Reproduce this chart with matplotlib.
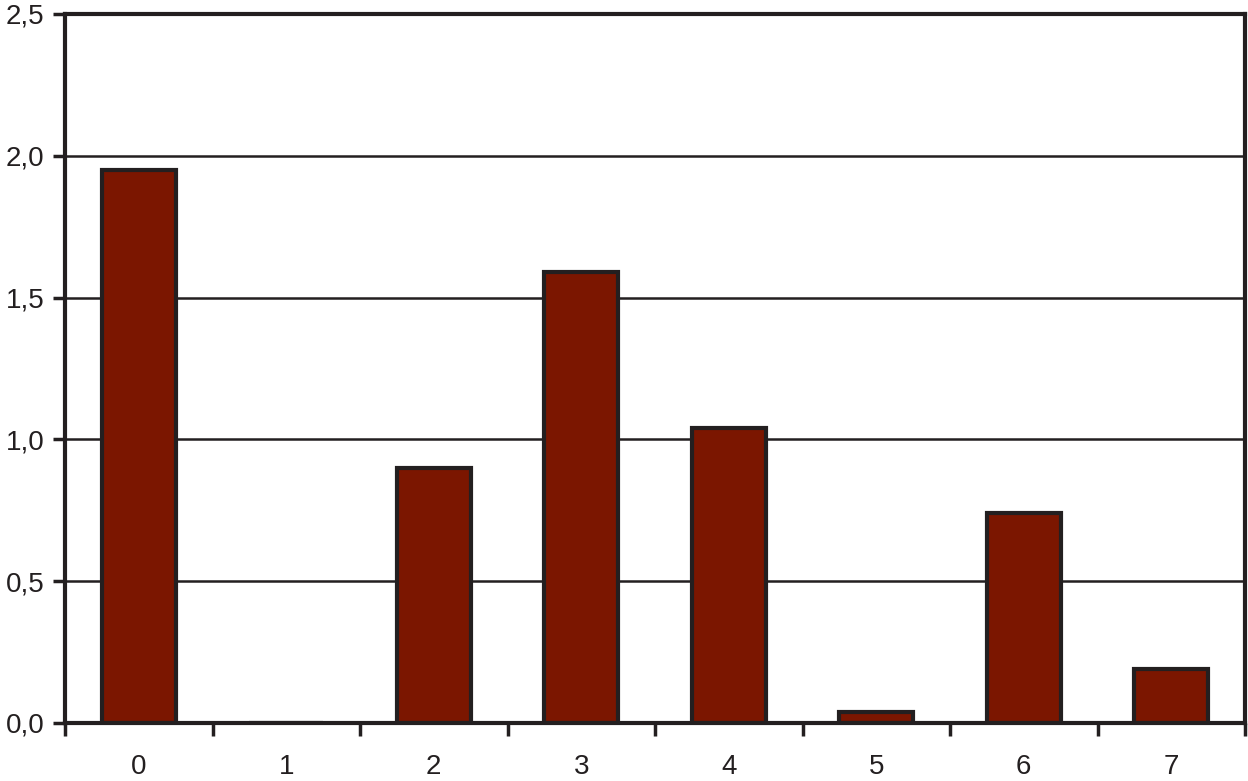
import numpy as np
import matplotlib
matplotlib.use("Agg")
import matplotlib.pyplot as plt
from matplotlib.ticker import FuncFormatter, FixedLocator

categories = ["0", "1", "2", "3", "4", "5", "6", "7"]
values = [1.95, 0.0, 0.90, 1.59, 1.04, 0.04, 0.74, 0.19]

bar_color = "#7b1600"
ink = "#231f20"

plt.rcParams["font.family"] = ["Liberation Sans", "DejaVu Sans"]

fig = plt.figure(figsize=(12.48, 7.81), dpi=100)
ax = fig.add_axes([0.0521, 0.0743, 0.9455, 0.9078])

x = np.arange(len(categories))
ax.bar(x, values, width=0.5, color=bar_color, edgecolor=ink, linewidth=3, zorder=3)

ax.set_xlim(-0.5, len(categories) - 0.5)
ax.set_ylim(0, 2.5)
ax.set_yticks(np.arange(0, 2.51, 0.5))
ax.yaxis.set_major_formatter(FuncFormatter(lambda v, p: "{:.1f}".format(v).replace(".", ",")))
ax.grid(axis="y", color=ink, linewidth=1.8, zorder=1)

ax.set_xticks(x)
ax.set_xticklabels(categories)
ax.xaxis.set_minor_locator(FixedLocator(np.arange(-0.5, len(categories), 1.0)))

for s in ax.spines.values():
    s.set_color(ink)
    s.set_linewidth(3)
    s.set_zorder(4)

ax.tick_params(axis="x", which="major", length=0, pad=22, labelsize=20, colors=ink)
ax.tick_params(axis="x", which="minor", length=9, width=2.5, color=ink)
ax.tick_params(axis="y", length=9, width=2.5, pad=6, labelsize=20, colors=ink)

fig.savefig("out.png", dpi=100)
